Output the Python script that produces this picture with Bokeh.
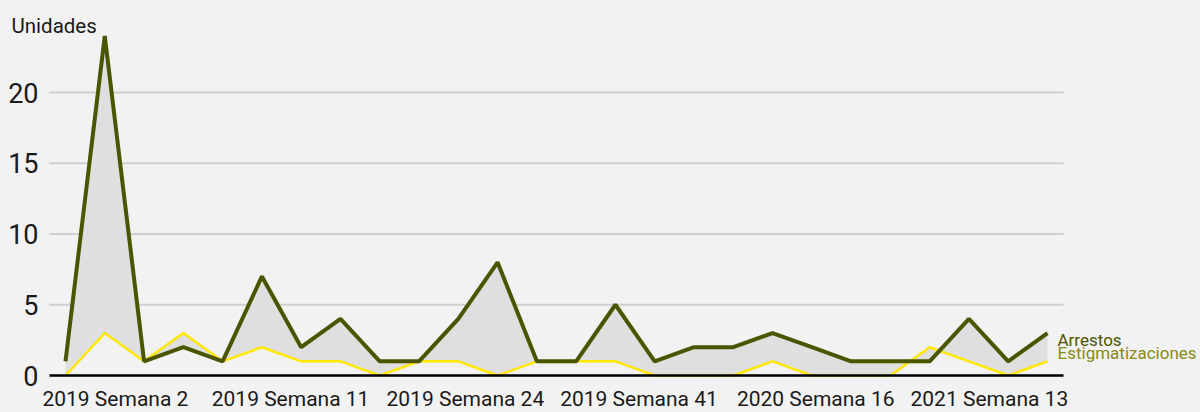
from bokeh.plotting import figure
from bokeh.models import FixedTicker, Label, Range1d, GlobalInlineStyleSheet
from bokeh.core.properties import value
from bokeh.embed import file_html
from bokeh.resources import INLINE

# ---- data ----
week_idx = list(range(26))
arrestos = [1, 24, 1, 2, 1, 7, 2, 4, 1, 1, 4, 8, 1, 1, 5, 1, 2, 2, 3, 2, 1, 1, 1, 4, 1, 3]
estigmatizaciones = [0, 3, 1, 3, 1, 2, 1, 1, 0, 1, 1, 0, 1, 1, 1, 0, 0, 0, 1, 0, 0, 0, 2, 1, 0, 1]
tick_labels = ["2019 Semana 2", "2019 Semana 11", "2019 Semana 24",
               "2019 Semana 41", "2020 Semana 16", "2021 Semana 13"]
tick_at = [1.27, 5.73, 10.18, 14.6, 19.1, 23.52]
y_ticks = [0, 5, 10, 15, 20]
y_tick_labels = [str(v) for v in y_ticks]

# ---- styling / geometry ----
BG = "#f2f2f2"
DARK = "#4b5500"
YELLOW = "#ffe800"
OLIVE = "#8a8a18"
TXT = "#1a1a1a"
FONT = "Roboto"

W, H = 1200, 412
PX_X = 39.28          # px per week step
PX_Y = 14.15          # px per unit
X0_PX = 65            # screen x of first week
Y0_PX = 375           # screen y of zero line
LABEL_TOP_PX = 386    # top of x tick label boxes
PAD = 16 / PX_X       # grid overhang beyond first/last point

grid_start = week_idx[0] - PAD
grid_end = week_idx[-1] + PAD

p = figure(width=W, height=H, output_backend="svg", toolbar_location=None,
           x_range=Range1d(-X0_PX / PX_X, (W - X0_PX) / PX_X),
           y_range=Range1d(-(H - Y0_PX) / PX_Y, Y0_PX / PX_Y),
           min_border_left=0, min_border_right=0, min_border_top=0,
           min_border_bottom=0)
p.stylesheets.append(GlobalInlineStyleSheet(css="body { margin: 0; background: #f2f2f2; }"))
p.background_fill_color = BG
p.border_fill_color = BG
p.outline_line_color = None
p.xgrid.grid_line_color = None
p.ygrid.grid_line_color = None
p.yaxis.visible = False

# horizontal grid lines (end at the data extent, like the original)
p.segment(x0=[grid_start] * len(y_ticks), x1=[grid_end] * len(y_ticks),
          y0=y_ticks, y1=y_ticks, line_color="#cfcfcf", line_width=2)

# y tick labels
p.text(x=[grid_start] * len(y_ticks), y=y_ticks, text=y_tick_labels,
       x_offset=-11, text_align="right", text_baseline="middle",
       text_font=value(FONT), text_font_size="27px", text_color=TXT)

# area between series + lines
p.varea(x=week_idx, y1=estigmatizaciones, y2=arrestos, fill_color="#dfdfdf")
p.line(week_idx, estigmatizaciones, line_color=YELLOW, line_width=2.5)
p.segment(x0=[grid_start], x1=[grid_end], y0=[0], y1=[0], line_color="black", line_width=2.5)
p.line(week_idx, arrestos, line_color=DARK, line_width=4)

# x axis, drawn at a fixed location just under the zero line
p.xaxis.ticker = FixedTicker(ticks=tick_at)
p.xaxis.major_label_overrides = {t: l for t, l in zip(tick_at, tick_labels)}
p.xaxis.fixed_location = -(LABEL_TOP_PX - Y0_PX) / PX_Y
p.xaxis.axis_line_color = None
p.xaxis.major_tick_line_color = None
p.xaxis.minor_tick_line_color = None
p.xaxis.major_tick_out = 0
p.xaxis.major_tick_in = 0
p.xaxis.major_label_standoff = 0
p.xaxis.major_label_text_font = FONT
p.xaxis.major_label_text_font_size = "21px"
p.xaxis.major_label_text_color = TXT

# y title
p.add_layout(Label(x=grid_start, y=p.y_range.end, x_offset=-38, y_offset=-25,
                   text="Unidades", text_font=FONT, text_font_size="20.5px",
                   text_color=TXT, text_align="left", text_baseline="alphabetic"))

# series labels
p.add_layout(Label(x=week_idx[-1], y=arrestos[-1], x_offset=10, y_offset=-6.5,
                   text="Arrestos", text_font=FONT, text_font_size="17px",
                   text_color=DARK, text_align="left", text_baseline="alphabetic"))
p.add_layout(Label(x=week_idx[-1], y=estigmatizaciones[-1], x_offset=10, y_offset=8.8,
                   text="Estigmatizaciones", text_font=FONT, text_font_size="17px",
                   text_color=OLIVE, text_align="left", text_baseline="alphabetic"))

open("out.html", "w").write(file_html(p, INLINE))
